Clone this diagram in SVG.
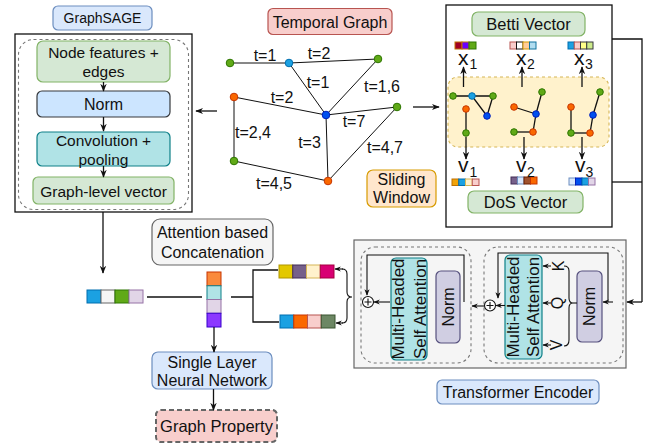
<svg xmlns="http://www.w3.org/2000/svg" width="648" height="445" viewBox="0 0 648 445">
<style>
text{font-family:"Liberation Sans",Arial,Helvetica,sans-serif;fill:#111;}
.c{text-anchor:middle;}
.f14{font-size:14px;}
.f15{font-size:15.5px;}
.f16{font-size:16px;}
.f17{font-size:17px;}
.grn{fill:#d5e8d4;stroke:#82b366;stroke-width:1.2;}
.blu{fill:#dae8fc;stroke:#6c8ebf;stroke-width:1.2;}
.red{fill:#f8cecc;stroke:#b85450;stroke-width:1.2;}
.org{fill:#ffe6cc;stroke:#d79b00;stroke-width:1.2;}
.teal{fill:#b0e3e6;stroke:#0e8088;stroke-width:1.2;}
.pur{fill:#d0cee2;stroke:#56517e;stroke-width:1.2;}
.gry{fill:#f5f5f5;stroke:#666666;stroke-width:1.2;}
.dash{fill:none;stroke:#777;stroke-width:1.1;stroke-dasharray:3,3;}
.ln{fill:none;stroke:#111;stroke-width:1.3;}
.ge{stroke:#111;stroke-width:1;fill:none;}
.se{stroke:#111;stroke-width:1.3;fill:none;}
.arr{fill:none;stroke:#111;stroke-width:1.3;marker-end:url(#ah);}
.arrs{fill:none;stroke:#111;stroke-width:1.1;marker-end:url(#ahs);}
.ng{fill:#60a917;stroke:#2d7600;}
.nl{fill:#1ba1e2;stroke:#006eaf;}
.no{fill:#fa6800;stroke:#c73500;}
.nb{fill:#0050ef;stroke:#001dbc;}
.cell{stroke-width:1;}
</style>
<defs>
<marker id="ah" viewBox="0 0 10 10" refX="9" refY="5" markerWidth="8" markerHeight="8" markerUnits="userSpaceOnUse" orient="auto"><path d="M0,1 L10,5 L0,9 L3,5 z" fill="#111"/></marker>
<marker id="ahs" viewBox="0 0 10 10" refX="9" refY="5" markerWidth="6.5" markerHeight="6.5" markerUnits="userSpaceOnUse" orient="auto"><path d="M0,1 L10,5 L0,9 L3,5 z" fill="#111"/></marker>
</defs>

<!-- GraphSAGE -->
<g id="graphsage">
<rect x="53" y="6" width="99" height="24" rx="5" class="blu"/>
<text x="102.5" y="23" class="c f14">GraphSAGE</text>
<rect x="15" y="34" width="177" height="178" fill="#fff" stroke="#111" stroke-width="1.3"/>
<rect x="18.5" y="39.5" width="170" height="170" rx="15" class="dash"/>
</g>
<g id="node-features">
<rect x="37" y="41" width="133" height="41" rx="6" class="grn"/>
<text x="103.5" y="58" class="c f15">Node features +</text>
<text x="103.5" y="77" class="c f15">edges</text>
</g>
<g id="norm-gs">
<rect x="37" y="91" width="133" height="26" rx="5" fill="#cce5ff" stroke="#36393d" stroke-width="1.2"/>
<text x="103.5" y="110" class="c f16">Norm</text>
</g>
<g id="conv">
<rect x="37" y="132" width="133" height="34" rx="5" class="teal"/>
<text x="103.5" y="145.5" class="c f15">Convolution +</text>
<text x="103.5" y="164.5" class="c f15">pooling</text>
</g>
<g id="graph-level">
<rect x="33" y="177" width="141" height="27" rx="5" class="grn"/>
<text x="103.5" y="196.5" class="c f15">Graph-level vector</text>
</g>

<!-- Temporal graph -->
<g id="temporal-graph">
<rect x="268" y="8.5" width="124" height="26" rx="5" class="red"/>
<text x="330" y="27.5" class="c f16">Temporal Graph</text>
<line x1="230" y1="63" x2="289" y2="63" class="ge"/>
<line x1="289" y1="63" x2="378" y2="59" class="ge"/>
<line x1="289" y1="63" x2="326" y2="115" class="ge"/>
<line x1="378" y1="59" x2="326" y2="115" class="ge"/>
<line x1="234" y1="97" x2="326" y2="115" class="ge"/>
<line x1="326" y1="115" x2="397" y2="107" class="ge"/>
<line x1="234" y1="97" x2="234" y2="161" class="ge"/>
<line x1="326" y1="115" x2="328" y2="181" class="ge"/>
<line x1="397" y1="107" x2="328" y2="181" class="ge"/>
<line x1="234" y1="161" x2="328" y2="181" class="ge"/>
<circle cx="230" cy="63" r="3.8" class="ng"/>
<circle cx="289" cy="63" r="3.8" class="nl"/>
<circle cx="378" cy="59" r="3.8" class="ng"/>
<circle cx="234" cy="97" r="3.8" class="no"/>
<circle cx="326" cy="115" r="3.8" class="nb"/>
<circle cx="397" cy="107" r="3.8" class="ng"/>
<circle cx="234" cy="161" r="3.8" class="ng"/>
<circle cx="328" cy="181" r="3.8" class="no"/>
<text x="265" y="61" class="c f16">t=1</text>
<text x="319" y="59" class="c f16">t=2</text>
<text x="318" y="87.5" class="c f16">t=1</text>
<text x="382" y="92" class="c f16">t=1,6</text>
<text x="282" y="102.5" class="c f16">t=2</text>
<text x="354" y="126.5" class="c f16">t=7</text>
<text x="253" y="137.5" class="c f16">t=2,4</text>
<text x="309.5" y="147.5" class="c f16">t=3</text>
<text x="385" y="152.5" class="c f16">t=4,7</text>
<text x="274" y="188.5" class="c f16">t=4,5</text>
</g>
<g id="sliding-window">
<rect x="367" y="170" width="69" height="37" rx="6" class="org"/>
<text x="401.5" y="185" class="c f16">Sliding</text>
<text x="401.5" y="203" class="c f16">Window</text>
</g>

<!-- Betti / DoS box -->
<g id="topology">
<rect x="446" y="5" width="166" height="222" fill="#fff" stroke="#111" stroke-width="1.3"/>
<rect x="448" y="77" width="161" height="70" rx="10" fill="#fff2cc" stroke="#d6b656" stroke-width="1.1" stroke-dasharray="3,3"/>
<!-- subgraph 1 -->
<line x1="453" y1="96" x2="493" y2="96" class="se"/>
<line x1="472" y1="96" x2="487" y2="116" class="se"/>
<line x1="493" y1="96" x2="487" y2="116" class="se"/>
<line x1="466" y1="109" x2="466" y2="133" class="se"/>
<circle cx="453" cy="96" r="3.3" class="ng"/>
<circle cx="472" cy="96" r="3.3" class="nl"/>
<circle cx="493" cy="96" r="3.3" class="ng"/>
<circle cx="487" cy="116" r="3.3" class="nb"/>
<circle cx="466" cy="109" r="3.3" class="no"/>
<circle cx="466" cy="133" r="3.3" class="ng"/>
<!-- subgraph 2 -->
<line x1="542" y1="92" x2="536" y2="114" class="se"/>
<line x1="514" y1="107" x2="536" y2="114" class="se"/>
<line x1="536" y1="114" x2="533" y2="132" class="se"/>
<line x1="514" y1="132" x2="533" y2="132" class="se"/>
<circle cx="542" cy="92" r="3.3" class="ng"/>
<circle cx="514" cy="107" r="3.3" class="no"/>
<circle cx="536" cy="114" r="3.3" class="nb"/>
<circle cx="514" cy="132" r="3.3" class="ng"/>
<circle cx="533" cy="132" r="3.3" class="no"/>
<!-- subgraph 3 -->
<line x1="600" y1="92" x2="593" y2="115" class="se"/>
<line x1="593" y1="115" x2="590" y2="133" class="se"/>
<line x1="571" y1="107" x2="571" y2="133" class="se"/>
<line x1="571" y1="133" x2="590" y2="133" class="se"/>
<circle cx="600" cy="92" r="3.3" class="ng"/>
<circle cx="593" cy="115" r="3.3" class="nb"/>
<circle cx="571" cy="107" r="3.3" class="no"/>
<circle cx="571" cy="133" r="3.3" class="ng"/>
<circle cx="590" cy="133" r="3.3" class="no"/>
</g>
<g id="betti-vector">
<rect x="472" y="12" width="113" height="24" rx="6" class="grn"/>
<text x="528.5" y="30" class="c" font-size="16.5">Betti Vector</text>
<rect x="455" y="42" width="7" height="7" fill="#a20025" stroke="#c07000" class="cell"/>
<rect x="462" y="42" width="7" height="7" fill="#6a00ff" stroke="#c07000" class="cell"/>
<rect x="469" y="42" width="7" height="7" fill="#60a917" stroke="#2d7600" class="cell"/>
<rect x="510" y="42" width="6.5" height="7" fill="#f8cecc" stroke="#b85450" class="cell"/>
<rect x="516.5" y="42" width="6.5" height="7" fill="#ffffff" stroke="#111" class="cell"/>
<rect x="523" y="42" width="6.5" height="7" fill="#ffcc99" stroke="#d79b00" class="cell"/>
<rect x="529.5" y="42" width="6.5" height="7" fill="#b1ddf0" stroke="#10739e" class="cell"/>
<rect x="568" y="42" width="6.25" height="7" fill="#1ba1e2" stroke="#006eaf" class="cell"/>
<rect x="574.25" y="42" width="6.25" height="7" fill="#f8cecc" stroke="#b85450" class="cell"/>
<rect x="580.5" y="42" width="6.25" height="7" fill="#ffff88" stroke="#36393d" class="cell"/>
<rect x="586.75" y="42" width="6.25" height="7" fill="#cdeb8b" stroke="#36393d" class="cell"/>
<text x="458" y="65" font-size="21">x</text><text x="469.5" y="69" font-size="14">1</text>
<text x="516" y="65" font-size="21">x</text><text x="527" y="69" font-size="14">2</text>
<text x="574" y="65" font-size="21">x</text><text x="585" y="69" font-size="14">3</text>
</g>
<g id="dos-vector">
<rect x="468" y="191" width="115" height="22" rx="6" class="grn"/>
<text x="525.5" y="208" class="c" font-size="16.5">DoS Vector</text>
<rect x="452" y="179" width="6.75" height="6.5" fill="#f0a30a" stroke="#bd7000" class="cell"/>
<rect x="458.75" y="179" width="6.75" height="6.5" fill="#1ba1e2" stroke="#006eaf" class="cell"/>
<rect x="465.5" y="179" width="6.75" height="6.5" fill="#fff2cc" stroke="#d6b656" class="cell"/>
<rect x="472.25" y="179" width="6.75" height="6.5" fill="#f8cecc" stroke="#b85450" class="cell"/>
<rect x="511" y="177" width="6.5" height="7" fill="#76608a" stroke="#432d57" class="cell"/>
<rect x="517.5" y="177" width="6.5" height="7" fill="#dae8fc" stroke="#6c8ebf" class="cell"/>
<rect x="524" y="177" width="6.5" height="7" fill="#a0522d" stroke="#6d1f00" class="cell"/>
<rect x="530.5" y="177" width="6.5" height="7" fill="#fa6800" stroke="#c73500" class="cell"/>
<rect x="569" y="178" width="6.5" height="7" fill="#dae8fc" stroke="#6c8ebf" class="cell"/>
<rect x="575.5" y="178" width="6.5" height="7" fill="#0050ef" stroke="#001dbc" class="cell"/>
<rect x="582" y="178" width="6.5" height="7" fill="#1ba1e2" stroke="#006eaf" class="cell"/>
<rect x="588.5" y="178" width="6.5" height="7" fill="#e1d5e7" stroke="#9673a6" class="cell"/>
<text x="458" y="172" font-size="21">v</text><text x="469.5" y="177" font-size="14">1</text>
<text x="516" y="172" font-size="21">v</text><text x="527" y="177" font-size="14">2</text>
<text x="575" y="172" font-size="21">v</text><text x="585.5" y="177" font-size="14">3</text>
</g>

<!-- Transformer -->
<g id="transformer">
<rect x="354" y="240" width="272" height="128" class="gry"/>
<rect x="484" y="247" width="139" height="116" rx="14" class="dash"/>
<rect x="361" y="247" width="110" height="116" rx="14" class="dash"/>
</g>
<g id="mhsa-right">
<rect x="505" y="255" width="37" height="104" rx="5" class="teal"/>
<text transform="translate(519,307) rotate(-90)" class="c f17">Multi-Headed</text>
<text transform="translate(539,307) rotate(-90)" class="c f17">Self Attention</text>
</g>
<g id="norm-right">
<rect x="577" y="271" width="25" height="71" rx="5" class="pur"/>
<text transform="translate(595,306.5) rotate(-90)" class="c f16">Norm</text>
</g>
<g id="kqv">
<text transform="translate(563.5,266) rotate(-90)" class="c f16">K</text>
<text transform="translate(563,303) rotate(-90)" class="c f16">Q</text>
<text transform="translate(561.5,345) rotate(-90)" class="c f16">V</text>
</g>
<g id="mhsa-left">
<rect x="391" y="258" width="36" height="102" rx="5" class="teal"/>
<text transform="translate(404,309) rotate(-90)" class="c f17">Multi-Headed</text>
<text transform="translate(426,309) rotate(-90)" class="c f17">Self Attention</text>
</g>
<g id="norm-left">
<rect x="436" y="271" width="24" height="72" rx="5" class="pur"/>
<text transform="translate(453.5,307) rotate(-90)" class="c f16">Norm</text>
</g>
<g id="add-right">
<circle cx="490" cy="305.5" r="5.5" fill="#fff" stroke="#111" stroke-width="1.1"/>
<path d="M486.5,305.5 H493.5 M490,302 V309" stroke="#111" stroke-width="1.1"/>
</g>
<g id="add-left">
<circle cx="368" cy="302" r="5.5" fill="#fff" stroke="#111" stroke-width="1.1"/>
<path d="M364.5,302 H371.5 M368,298.5 V305.5" stroke="#111" stroke-width="1.1"/>
</g>
<g id="transformer-label">
<rect x="437" y="380" width="162" height="24" rx="5" class="blu"/>
<text x="518" y="398" class="c f16">Transformer Encoder</text>
</g>

<!-- Concatenation -->
<g id="attn-concat">
<rect x="152" y="219" width="121" height="46" rx="8" class="gry"/>
<text x="212.5" y="237.5" class="c f16">Attention based</text>
<text x="212.5" y="257.5" class="c f16">Concatenation</text>
</g>
<g id="vec-graph">
<rect x="87" y="290" width="14" height="13" fill="#1ba1e2" stroke="#006eaf" class="cell"/>
<rect x="101" y="290" width="14" height="13" fill="#f5f5f5" stroke="#666666" class="cell"/>
<rect x="115" y="290" width="14" height="13" fill="#60a917" stroke="#2d7600" class="cell"/>
<rect x="129" y="290" width="14" height="13" fill="#e1d5e7" stroke="#9673a6" class="cell"/>
</g>
<g id="vec-concat">
<rect x="207" y="272" width="14" height="13.75" fill="#fa8a3c" stroke="#c73500" class="cell"/>
<rect x="207" y="285.75" width="14" height="13.75" fill="#b0e3e6" stroke="#0e8088" class="cell"/>
<rect x="207" y="299.5" width="14" height="13.75" fill="#e1d5e7" stroke="#9673a6" class="cell"/>
<rect x="207" y="313.25" width="14" height="13.75" fill="#8c38ff" stroke="#3700cc" class="cell"/>
</g>
<g id="vec-top">
<rect x="279" y="265" width="13.75" height="13" fill="#e3c800" stroke="#b09500" class="cell"/>
<rect x="292.75" y="265" width="13.75" height="13" fill="#76608a" stroke="#432d57" class="cell"/>
<rect x="306.5" y="265" width="13.75" height="13" fill="#fff2cc" stroke="#d6b656" class="cell"/>
<rect x="320.25" y="265" width="13.75" height="13" fill="#d80073" stroke="#a50040" class="cell"/>
</g>
<g id="vec-bottom">
<rect x="280" y="315" width="13.75" height="13" fill="#1ba1e2" stroke="#006eaf" class="cell"/>
<rect x="293.75" y="315" width="13.75" height="13" fill="#fa6800" stroke="#c73500" class="cell"/>
<rect x="307.5" y="315" width="13.75" height="13" fill="#f8cecc" stroke="#b85450" class="cell"/>
<rect x="321.25" y="315" width="13.75" height="13" fill="#6d8764" stroke="#3a5431" class="cell"/>
</g>
<g id="single-layer">
<rect x="152" y="352" width="120" height="37" rx="6" class="blu"/>
<text x="212" y="367.5" class="c f16">Single Layer</text>
<text x="212" y="385.5" class="c f16">Neural Network</text>
</g>
<g id="graph-property">
<rect x="156" y="410" width="121" height="32" rx="5" fill="#f8cecc" stroke="#666666" stroke-width="2" stroke-dasharray="5,3"/>
<text x="216.5" y="432" class="c" font-size="16.5">Graph Property</text>
</g>

<!-- Connectors -->
<g id="connectors">
<line x1="103.5" y1="82" x2="103.5" y2="91" class="arr"/>
<line x1="103.5" y1="117" x2="103.5" y2="131" class="arr"/>
<line x1="103.5" y1="166" x2="103.5" y2="177" class="arr"/>
<line x1="217" y1="111" x2="196" y2="111" class="arr"/>
<line x1="103" y1="212" x2="103" y2="273" class="arr"/>
<line x1="413" y1="107" x2="439" y2="107" class="arr"/>
<line x1="463.5" y1="87" x2="463.5" y2="67" class="arr"/>
<line x1="522" y1="87" x2="522" y2="67" class="arr"/>
<line x1="582" y1="87" x2="582" y2="67" class="arr"/>
<line x1="466" y1="137" x2="466" y2="159" class="arr"/>
<line x1="524" y1="137" x2="524" y2="159" class="arr"/>
<line x1="582" y1="137" x2="582" y2="159" class="arr"/>
<path d="M612,39 H642 V302" class="ln"/>
<line x1="612" y1="182" x2="642" y2="182" class="ln"/>
<line x1="642" y1="302" x2="627" y2="302" class="arr"/>
<line x1="613" y1="302" x2="603" y2="302" class="arrs"/>
<path d="M608,302 V253 H498 V298" class="arrs"/>
<line x1="551" y1="266" x2="543" y2="266" class="arrs"/>
<line x1="551" y1="303" x2="543" y2="303" class="arrs"/>
<line x1="551" y1="345" x2="543" y2="345" class="arrs"/>
<path d="M564,266 Q569,266 569,271 L569,298 Q569,303 573,303 Q569,303 569,308 L569,340 Q569,346 564,346" fill="none" stroke="#111" stroke-width="1.1"/>
<line x1="573" y1="303" x2="577" y2="303" stroke="#111" stroke-width="1.1"/>
<line x1="505" y1="305.5" x2="496" y2="305.5" class="arrs"/>
<line x1="484" y1="306" x2="472" y2="306" class="arrs"/>
<path d="M464,302 V255 H367 V295" class="arrs"/>
<line x1="390" y1="302" x2="374" y2="302" class="arrs"/>
<path d="M342,269 Q347,269 347,274 L347,292 Q347,297 352,297 Q347,297 347,302 L347,318 Q347,323 342,323" fill="none" stroke="#111" stroke-width="1.1"/>
<line x1="343" y1="269" x2="335" y2="269" class="arrs"/>
<line x1="343" y1="323" x2="336" y2="323" class="arrs"/>
<line x1="147" y1="297" x2="202" y2="297" class="ln"/>
<path d="M231,297 H253 M278,270 H253 V322 H279" class="ln"/>
<line x1="214" y1="327" x2="214" y2="352" class="arr"/>
<line x1="213.5" y1="389" x2="213.5" y2="410" class="arr"/>
</g>
</svg>
